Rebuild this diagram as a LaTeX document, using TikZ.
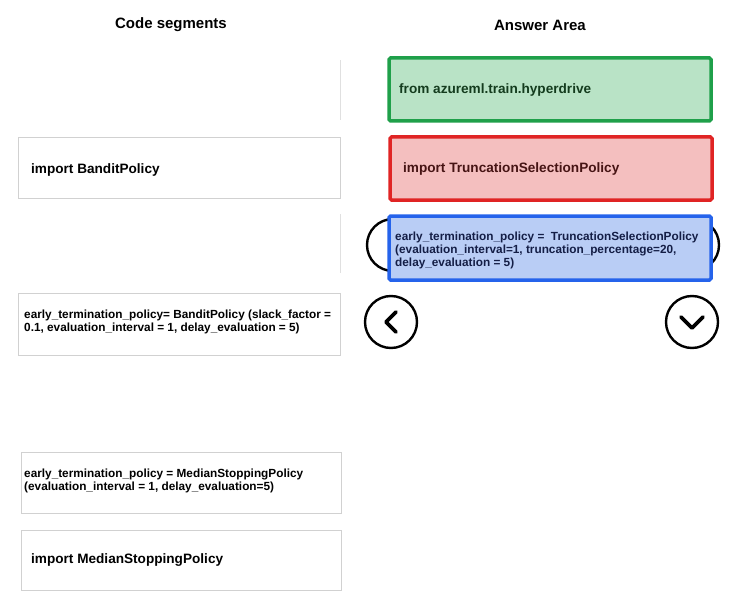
\documentclass[tikz,border=0pt]{standalone}
\usepackage{fontspec}
\setmainfont{Liberation Sans}
\begin{document}
\begin{tikzpicture}[x=1pt,y=-1pt,
  seg/.style={draw=black!18,line width=1pt},
  txt/.style={anchor=west,align=left,font=\bfseries\fontsize{11.8}{13}\selectfont,inner sep=0pt},
  big/.style={txt,font=\bfseries\fontsize{13.6}{15}\selectfont},
  hdr/.style={font=\bfseries\fontsize{15}{17}\selectfont},
  ans/.style={line width=3.5pt,rounded corners=1.5pt},
  circ/.style={draw=black,line width=2.4pt,circle,minimum size=52pt,inner sep=0pt}]
\useasboundingbox (0,0) rectangle (747,599);
\node[hdr] (h1) at (171,25) {Code segments};
\node[hdr] (h2) at (540,25) {Answer Area};
% left column
\draw[draw=black!12,line width=1pt] (340,60) -- (340,120);
\draw[seg] (18,138) rectangle (340,198);
\node[big] (t1) at (31,170) {import BanditPolicy};
\draw[draw=black!12,line width=1pt] (340,214) -- (340,273);
\draw[seg] (18,293) rectangle (340,355);
\node[txt] (t2) at (24,322) {early\_termination\_policy= BanditPolicy (slack\_factor =\\0.1, evaluation\_interval = 1, delay\_evaluation = 5)};
\draw[seg] (21,452) rectangle (341,513);
\node[txt] (t3) at (24,481) {early\_termination\_policy = MedianStoppingPolicy\\(evaluation\_interval = 1, delay\_evaluation=5)};
\draw[seg] (21,530) rectangle (341,590);
\node[big] (t4) at (31,560) {import MedianStoppingPolicy};
% circles
\node[circ] (c1) at (393,245) {};
\node[circ] (c2) at (693,245) {};
\node[circ] (c3) at (391,322) {};
\node[circ] (c4) at (692,322) {};
\draw[line width=3.6pt,line cap=round,line join=round] ([shift={(5,-10)}]c3.center) -- ([shift={(-5,0)}]c3.center) -- ([shift={(5,10)}]c3.center);
\draw[line width=3.6pt,line cap=round,line join=round] ([shift={(-11,-5)}]c4.center) -- ([shift={(0,6)}]c4.center) -- ([shift={(11,-5)}]c4.center);
% answer area
\draw[ans,draw={rgb,255:red,31;green,160;blue,74},fill={rgb,255:red,185;green,227;blue,198}] (389,58) rectangle (711,121);
\node[big,text={rgb,255:red,20;green,60;blue,30}] (a1) at (399,90) {from azureml.train.hyperdrive};
\draw[ans,draw={rgb,255:red,224;green,36;blue,36},fill={rgb,255:red,244;green,191;blue,191}] (390,137) rectangle (712,200);
\node[big,text={rgb,255:red,70;green,20;blue,20}] (a2) at (403,169) {import TruncationSelectionPolicy};
\draw[ans,draw={rgb,255:red,37;green,99;blue,235},fill={rgb,255:red,185;green,205;blue,245}] (389,216) rectangle (711,280);
\node[txt,text={rgb,255:red,20;green,30;blue,70}] (a3) at (395,250) {early\_termination\_policy =\ \ TruncationSelectionPolicy\\(evaluation\_interval=1, truncation\_percentage=20,\\delay\_evaluation = 5)};
\end{tikzpicture}
\end{document}
